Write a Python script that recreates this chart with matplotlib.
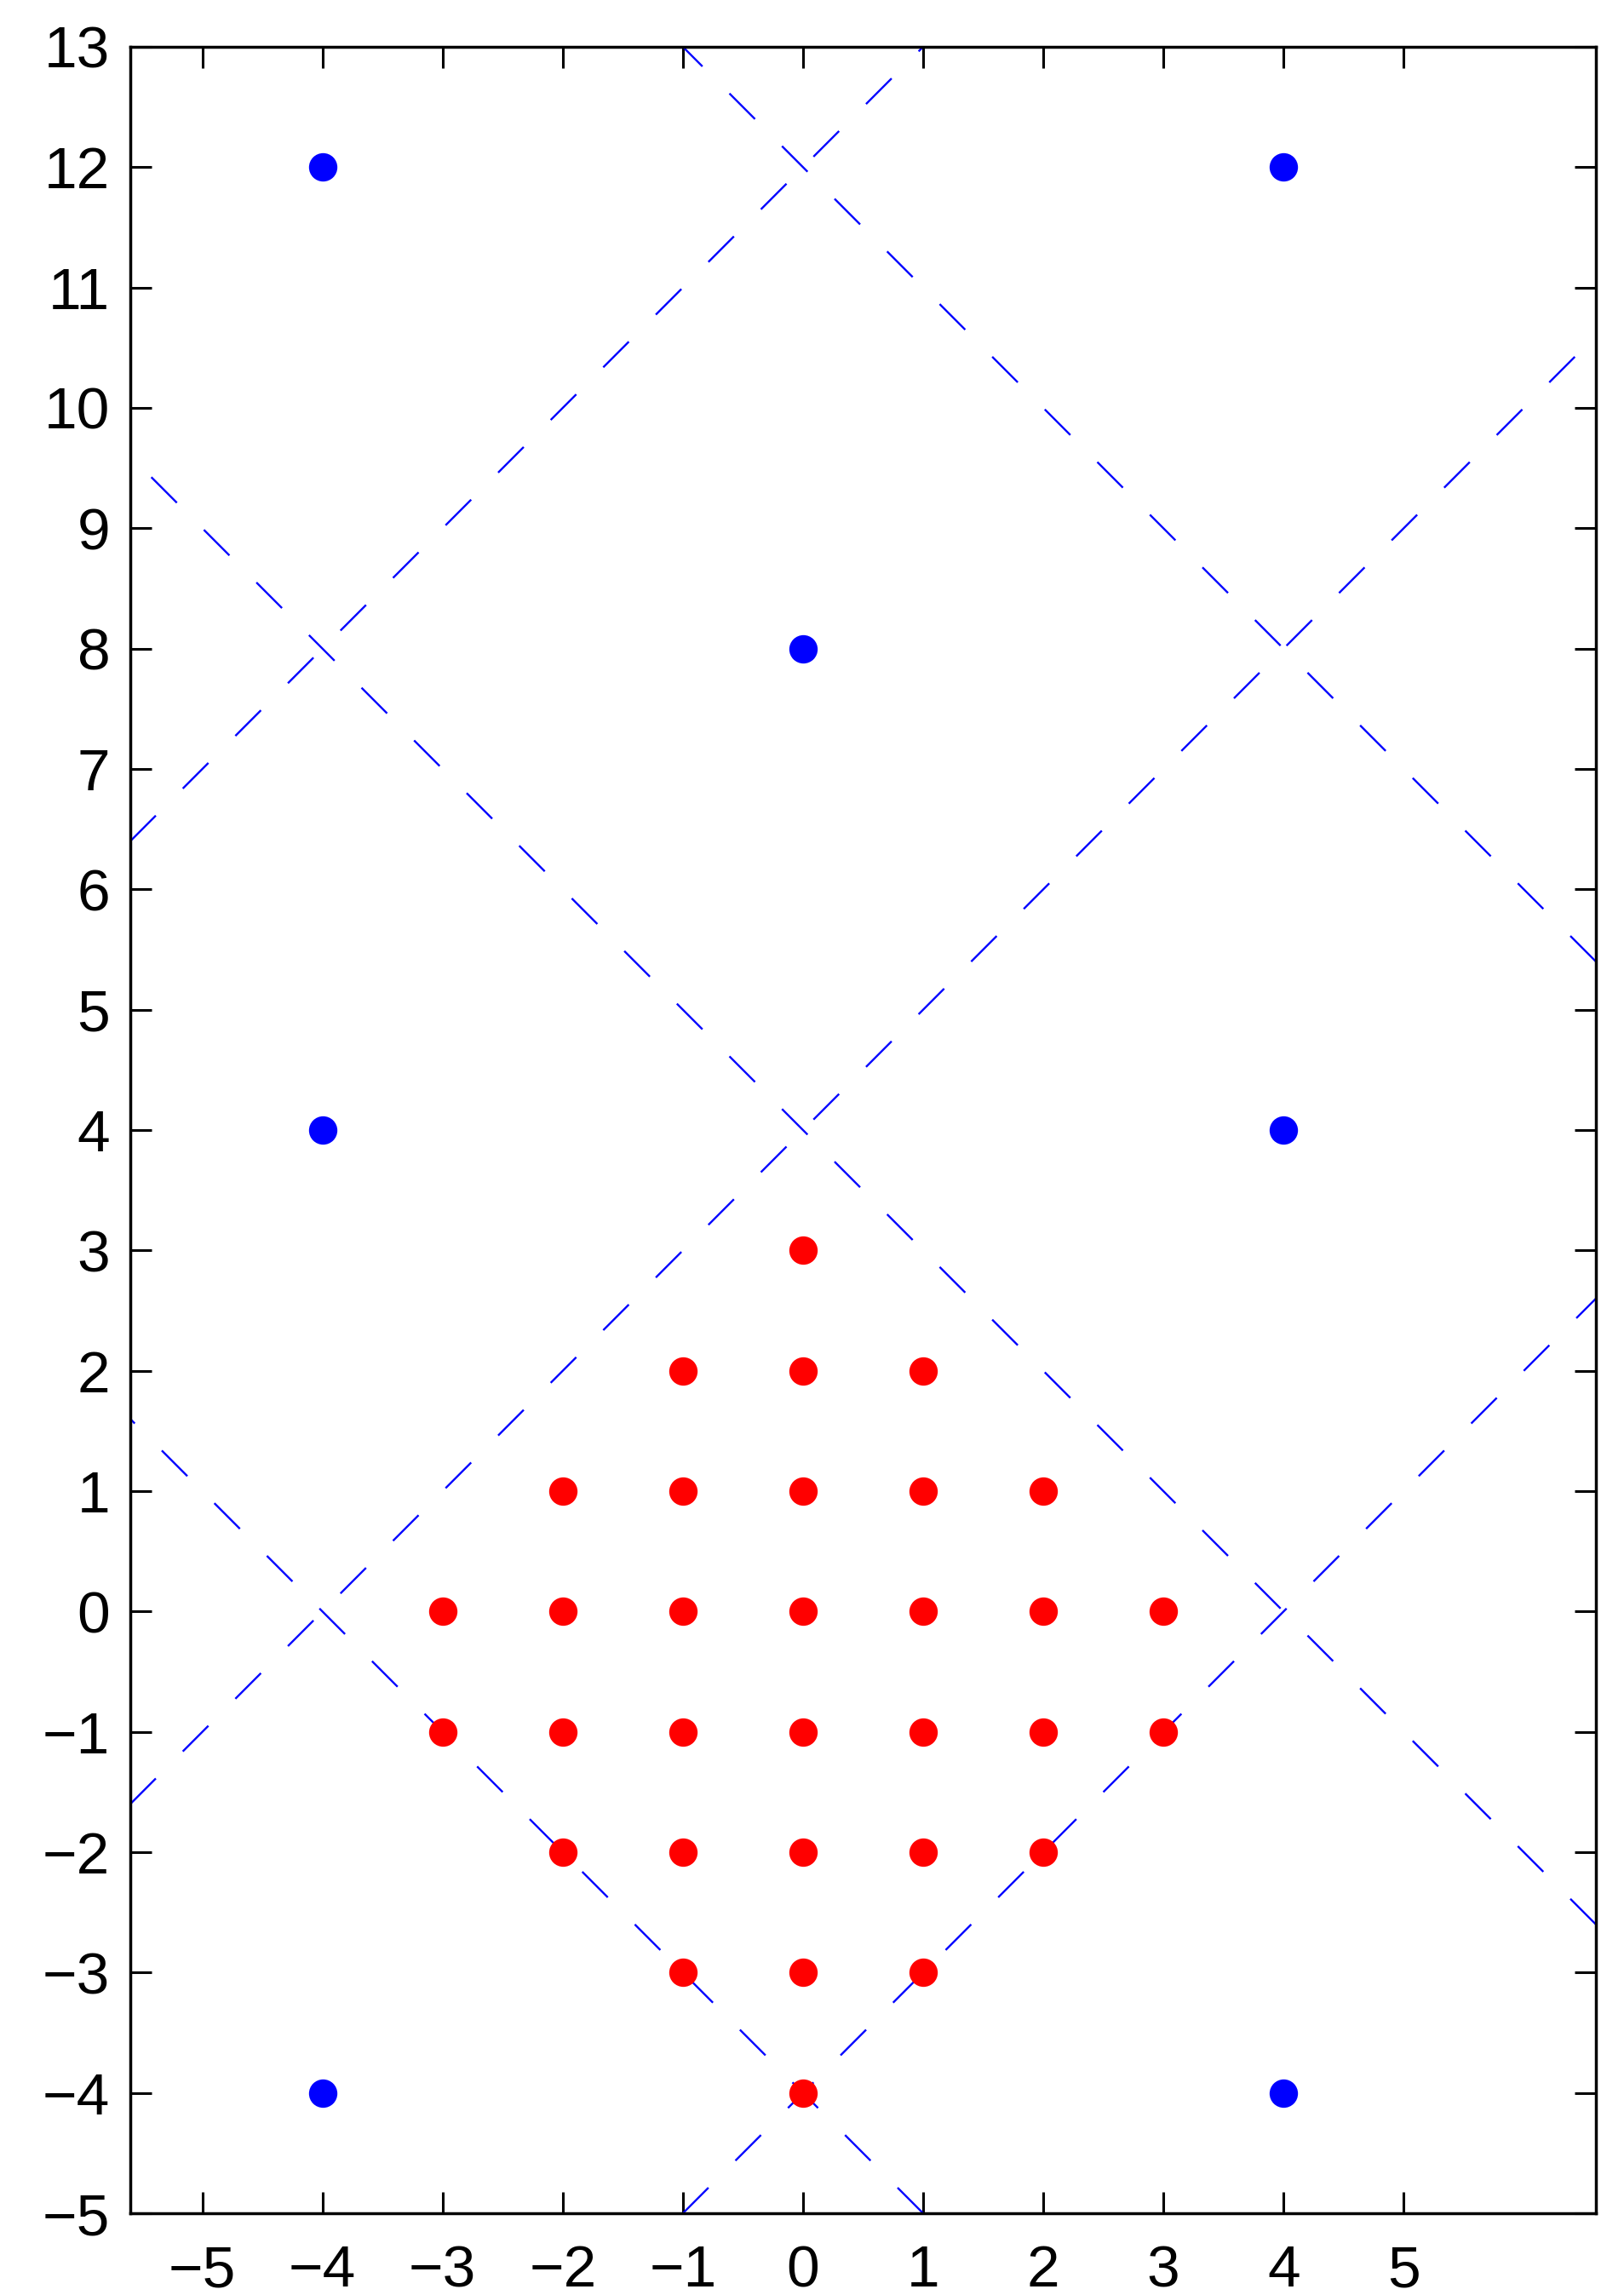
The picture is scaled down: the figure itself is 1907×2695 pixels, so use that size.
import matplotlib
matplotlib.use("Agg")
import matplotlib.pyplot as plt
import numpy as np

plt.rcParams['font.family'] = ['Liberation Sans', 'DejaVu Sans']

# lattice points (blue) and the points of the fundamental region (red)
blue_x = [-4, 4, 0, -4, 4, -4, 4]
blue_y = [12, 12, 8, 4, 4, -4, -4]

red_x = [0,
         -1, 0, 1,
         -2, -1, 0, 1, 2,
         -3, -2, -1, 0, 1, 2, 3,
         -3, -2, -1, 0, 1, 2, 3,
         -2, -1, 0, 1, 2,
         -1, 0, 1,
         0]
red_y = [3,
         2, 2, 2,
         1, 1, 1, 1, 1,
         0, 0, 0, 0, 0, 0, 0,
         -1, -1, -1, -1, -1, -1, -1,
         -2, -2, -2, -2, -2,
         -3, -3, -3,
         -4]

# dashed boundary lines y = slope*x + intercept
line_slopes = [1, 1, 1, -1, -1, -1]
line_intercepts = [-4, 4, 12, -4, 4, 12]

xticks = list(range(-5, 6))
yticks = list(range(-5, 14))
xlim = (-5.6, 6.6)
ylim = (-5, 13)

fig = plt.figure(figsize=(19.07, 26.95), dpi=100)
ax = fig.add_axes([0.0802, 0.0356, 0.9025, 0.944])

# only draw the part of each line that lies inside the box, so the
# dash pattern starts at the box edge like matlab does
for m, b in zip(line_slopes, line_intercepts):
    xa = max(xlim[0], min((ylim[0] - b) / m, (ylim[1] - b) / m))
    xb = min(xlim[1], max((ylim[0] - b) / m, (ylim[1] - b) / m))
    xs = np.array([xa, xb])
    if m < 0:
        xs = xs[::-1]
    ax.plot(xs, m * xs + b, color='blue', lw=1.7, ls=(0, (18, 19)))

ax.plot(blue_x, blue_y, 'o', color='blue', ms=24, mew=0)
ax.plot(red_x, red_y, 'o', color='red', ms=24, mew=0)

ax.set_xlim(*xlim)
ax.set_ylim(*ylim)
ax.set_xticks(xticks)
ax.set_yticks(yticks)

for s in ax.spines.values():
    s.set_linewidth(2.5)
ax.tick_params(direction='in', length=18, width=2.2, labelsize=50,
               top=True, right=True)
ax.tick_params(axis='y', pad=17)
ax.tick_params(axis='x', pad=26)

fig.savefig('out.png', dpi=100)
